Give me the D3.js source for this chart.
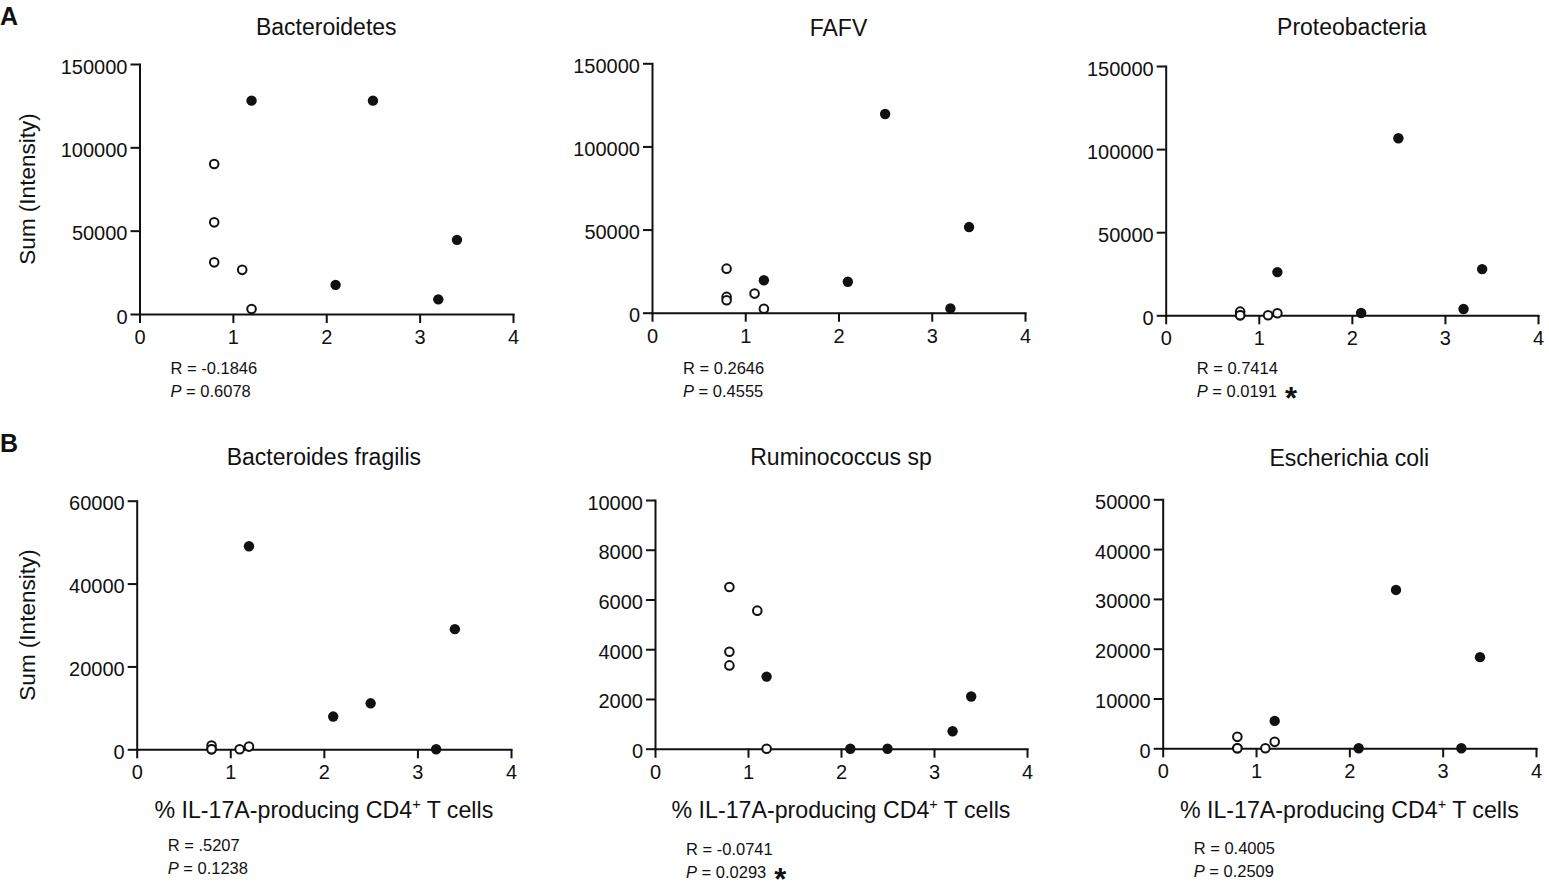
<!DOCTYPE html>
<html>
<head>
<meta charset="utf-8">
<script src="https://cdn.jsdelivr.net/npm/d3@7"></script>
<style>
body{margin:0;background:#fff}
svg{display:block}
text{font-family:"Liberation Sans",Arial,Helvetica,sans-serif;fill:#111}
</style>
</head>
<body>
<svg id="fig" width="1549" height="884"></svg>
<script>
var titles = ["Bacteroidetes","FAFV","Proteobacteria","Bacteroides fragilis","Ruminococcus sp","Escherichia coli"];

// % IL-17A-producing CD4+ T cells, same subjects in every panel
var xOpen   = [0.8, 0.8, 0.8, 1.1, 1.2];
var xFilled = [1.2, 2.1, 2.5, 3.2, 3.4];

// Sum (Intensity) per panel
var openVals = [
	[90000, 55000, 31000, 26500, 3000],
	[26500, 9500, 7500, 11500, 2400],
	[2200, 0, 0, 0, 1200],
	[900, 0, 0, 0, 650],
	[6500, 3900, 3350, 5550, 0],
	[2300, 0, 0, 0, 1300]
];
var filledVals = [
	[128000, 17500, 128000, 8800, 44500],
	[19500, 18600, 119500, 2600, 51500],
	[26000, 1400, 106500, 3800, 27800],
	[49000, 7900, 11100, 0, 29000],
	[2900, 0, 0, 700, 2100],
	[5500, 0, 31800, 0, 18300]
];

var yMax  = [150000, 150000, 150000, 60000, 10000, 50000];
var yStep = [50000, 50000, 50000, 20000, 2000, 10000];
var xTicks = [0, 1, 2, 3, 4];

var rVals  = ["-0.1846", "0.2646", "0.7414", ".5207", "-0.0741", "0.4005"];
var pVals  = ["0.6078", "0.4555", "0.0191", "0.1238", "0.0293", "0.2509"];
var signif = [false, false, true, false, true, false];

// layout: plot area left, right, top, bottom (px), and where the stats sit below the x axis
var boxes = [
	[139.5, 513, 64, 314],
	[652, 1025, 63.3, 312.7],
	[1165.7, 1538, 66, 315.3],
	[136.7, 511, 500.7, 749.3],
	[655, 1027, 500, 748.7],
	[1162.7, 1536, 499.3, 748.3]
];
var titleY = [35, 36, 34.5, 465, 465, 466];
var statDy = [60, 61, 59, 101.5, 106, 106];

var svg = d3.select("#fig");
var font = '"Liberation Sans",Arial,Helvetica,sans-serif';

svg.append("text").attr("x", 0).attr("y", 25).attr("font-size", 25).attr("font-weight", "bold").text("A");
svg.append("text").attr("x", 0).attr("y", 452).attr("font-size", 25).attr("font-weight", "bold").text("B");

boxes.forEach(function(b, i){
	var x = d3.scaleLinear().domain([0, 4]).range([b[0], b[1]]);
	var y = d3.scaleLinear().domain([0, yMax[i]]).range([b[3], b[2]]);
	var g = svg.append("g");

	var xa = g.append("g")
		.attr("transform", "translate(0," + b[3] + ")")
		.call(d3.axisBottom(x).tickValues(xTicks).tickSize(9).tickSizeOuter(0).tickPadding(7).tickFormat(d3.format("d")));
	var ya = g.append("g")
		.attr("transform", "translate(" + b[0] + ",0)")
		.call(d3.axisLeft(y).tickValues(d3.range(0, yMax[i] + 1, yStep[i])).tickSize(9).tickSizeOuter(0).tickPadding(3).tickFormat(d3.format("d")));

	[xa, ya].forEach(function(a){
		a.attr("font-size", 20).attr("font-family", font);
		a.selectAll("path,line").attr("stroke", "#111").attr("stroke-width", 2);
		a.select(".domain").attr("stroke-linecap", "square");
		a.selectAll("text").attr("fill", "#111");
	});
	ya.selectAll("text").attr("dy", "0.45em");

	g.append("text")
		.attr("x", (b[0] + b[1]) / 2).attr("y", titleY[i])
		.attr("text-anchor", "middle").attr("font-size", 23)
		.text(titles[i]);

	g.selectAll(".open").data(openVals[i]).enter().append("circle")
		.attr("class", "open")
		.attr("cx", function(d, k){ return x(xOpen[k]); })
		.attr("cy", function(d){ return y(d); })
		.attr("r", 4.3)
		.attr("fill", "#fff")
		.attr("stroke", "#111")
		.attr("stroke-width", 2);

	g.selectAll(".filled").data(filledVals[i]).enter().append("circle")
		.attr("class", "filled")
		.attr("cx", function(d, k){ return x(xFilled[k]); })
		.attr("cy", function(d){ return y(d); })
		.attr("r", 5.2)
		.attr("fill", "#111");

	if (i === 0 || i === 3) {
		g.append("text")
			.attr("transform", "translate(35," + ((b[2] + b[3]) / 2) + ") rotate(-90)")
			.attr("text-anchor", "middle").attr("font-size", 22.5)
			.text("Sum (Intensity)");
	}
	if (i >= 3) {
		var xl = g.append("text")
			.attr("x", (b[0] + b[1]) / 2).attr("y", 818)
			.attr("text-anchor", "middle").attr("font-size", 23.2);
		xl.append("tspan").text("% IL-17A-producing CD4");
		xl.append("tspan").attr("font-size", 14.5).attr("dy", -9).text("+");
		xl.append("tspan").attr("dy", 9).text(" T cells");
	}

	var sx = b[0] + 31, sy = b[3] + statDy[i];
	g.append("text").attr("x", sx).attr("y", sy).attr("font-size", 16.5).text("R = " + rVals[i]);
	var pt = g.append("text").attr("x", sx).attr("y", sy + 23).attr("font-size", 16.5);
	pt.append("tspan").attr("font-style", "italic").text("P");
	pt.append("tspan").text(" = " + pVals[i]);
	if (signif[i]) {
		var w = pt.node().getComputedTextLength();
		g.append("text")
			.attr("x", sx + w + 8).attr("y", sy + 23 + 12)
			.attr("font-size", 31).attr("font-weight", "bold")
			.text("*");
	}
});
</script>
</body>
</html>
